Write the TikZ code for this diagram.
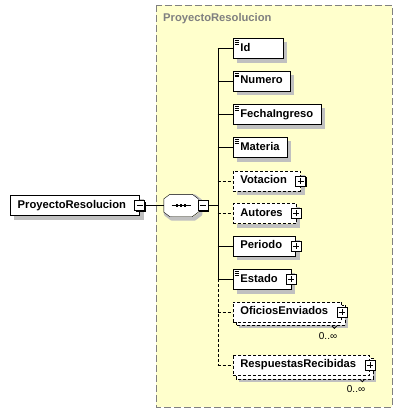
\documentclass[tikz,border=0pt]{standalone}
\usepackage{fontspec}
\setmainfont{Liberation Sans}
\usetikzlibrary{positioning}

\definecolor{schemabg}{RGB}{255,255,204}
\definecolor{schemagray}{RGB}{128,128,128}
\definecolor{shadowgray}{RGB}{192,192,192}

\pgfdeclarelayer{frame}
\pgfdeclarelayer{shadow}
\pgfsetlayers{frame,shadow,main}

\tikzset{
  elem/.style={draw, fill=white, anchor=west, minimum height=20pt, inner xsep=7.5pt, inner ysep=0pt,
    font=\fontsize{11.2}{13.4}\selectfont\bfseries, text height=8pt, text depth=2.5pt},
  opt/.style={dash pattern=on 3pt off 2pt},
  kids/.style={execute at end node=\hspace{6pt}},
  simple/.style={path picture={
    \foreach \dy in {2.2pt,3.9pt,5.6pt}
      \draw[line width=0.8pt] ([xshift=1.8pt,yshift=-\dy]path picture bounding box.north west) -- ++(4.5pt,0pt);}},
  plusbox/.style={draw, fill=white, minimum size=10pt, inner sep=0pt,
    path picture={\draw ([xshift=-3pt]path picture bounding box.center) -- ([xshift=3pt]path picture bounding box.center)
      ([yshift=-3pt]path picture bounding box.center) -- ([yshift=3pt]path picture bounding box.center);}},
  minusbox/.style={draw, fill=white, minimum size=10pt, inner sep=0pt,
    path picture={\draw ([xshift=-3pt]path picture bounding box.center) -- ([xshift=3pt]path picture bounding box.center);}},
  seqbox/.style={minimum width=34pt, minimum height=22pt, inner sep=0pt},
  occ/.style={font=\fontsize{10}{12}\selectfont, inner sep=0pt, anchor=east},
  shadowline/.style={shadowgray, line width=#1, line cap=butt}
}

% octagon of a sequence node, moved by #2
\newcommand{\seqpath}[2]{([xshift=6pt+#2,yshift=-#2]#1.north west) -- ([xshift=-6pt+#2,yshift=-#2]#1.north east)
    -- ([xshift=#2,yshift=-4.5pt-#2]#1.north east) -- ([xshift=#2,yshift=4.5pt-#2]#1.south east)
    -- ([xshift=-6pt+#2,yshift=-#2]#1.south east) -- ([xshift=6pt+#2,yshift=-#2]#1.south west)
    -- ([xshift=#2,yshift=4.5pt-#2]#1.south west) -- ([xshift=#2,yshift=-4.5pt-#2]#1.north west) -- cycle}

% gray shadow strips right of and below a box, #2 wide
\newcommand{\boxshadow}[2]{%
  \draw[shadowline=#2] ([xshift=#2/2,yshift=-#2]#1.north east) -- ([xshift=#2/2,yshift=-#2]#1.south east);
  \draw[shadowline=#2] ([xshift=#2,yshift=-#2/2]#1.south west) -- ([xshift=#2,yshift=-#2/2]#1.south east);}

\begin{document}
\begin{tikzpicture}[x=1pt, y=-1pt, line width=1pt]
  \useasboundingbox (0,0) rectangle (403,413);

  % complex type frame
  \begin{pgfonlayer}{frame}
    \draw[schemagray, dash pattern=on 7pt off 3pt, fill=schemabg] (156,5) rectangle (392,407);
  \end{pgfonlayer}
  \node[anchor=west, inner sep=0pt, text=schemagray, font=\fontsize{11.2}{13.4}\selectfont\bfseries] (title) at (163,19) {ProyectoResolucion};

  % root element and sequence
  \node[elem, kids] (root) at (10,205.5) {ProyectoResolucion};
  \fill ([xshift=-4pt,yshift=4pt]root.east) rectangle ([xshift=6pt,yshift=-6pt]root.east);
  \node[minusbox] (root-minus) at (root.east) {};
  \node[seqbox, right=19pt of root-minus] (seq) {};
  \begin{pgfonlayer}{shadow}
    \draw[shadowline=4pt, line join=round] \seqpath{seq}{2pt};
  \end{pgfonlayer}
  \draw[fill=white] \seqpath{seq}{0pt};
  \draw ([xshift=-9.5pt]seq.center) -- ([xshift=9.5pt]seq.center);
  \foreach \dx in {-4pt,0pt,4pt}
    \fill ([xshift=\dx]seq.center) +(-1.3pt,-1.3pt) rectangle +(1.3pt,1.3pt);
  \fill ([xshift=1pt,yshift=4pt]seq.east) rectangle ([xshift=11pt,yshift=-6pt]seq.east);
  \node[minusbox, anchor=west] (seq-minus) at (seq.east) {};
  \coordinate (spine) at (217.7,205.5);

  % children
  \node[elem, simple, execute at end node=\hspace{25pt}] (id) at (232.7,48.3) {Id};
  \node[elem, simple] (numero) at (232.7,81) {Numero};
  \node[elem, simple] (fecha) at (232.7,114.3) {FechaIngreso};
  \node[elem, simple] (materia) at (232.7,147.3) {Materia};
  \node[elem, kids, opt] (votacion) at (232.7,180.7) {Votacion};
  \node[elem, kids, opt] (autores) at (232.7,213.3) {Autores};
  \node[elem, kids] (periodo) at (232.7,246) {Periodo};
  \node[elem, kids, simple] (estado) at (232.7,279.3) {Estado};
  \node[elem, kids, opt] (oficios) at (232.7,311.7) {OficiosEnviados};
  \node[elem, kids, opt] (respuestas) at (232.7,365) {RespuestasRecibidas};

  % shadows
  \begin{pgfonlayer}{shadow}
    \foreach \n in {root,id,numero,fecha,materia,votacion,autores,periodo,estado} {
      \boxshadow{\n}{4pt}
    }
    \foreach \n in {oficios,respuestas} {
      \boxshadow{\n}{6.5pt}
      \draw[opt, fill=white] ([xshift=3.5pt,yshift=-3.5pt]\n.south west) rectangle ([xshift=3.5pt,yshift=-3.5pt]\n.north east);
    }
  \end{pgfonlayer}

  \foreach \n in {votacion,autores,periodo,estado,oficios,respuestas} {
    \fill ([xshift=-4pt,yshift=4pt]\n.east) rectangle ([xshift=6pt,yshift=-6pt]\n.east);
    \node[plusbox] (\n-plus) at (\n.east) {};
  }

  % occurrences
  \foreach \n in {oficios,respuestas} {
    \draw[line width=0.8pt] ([xshift=-10pt,yshift=-4pt]\n.south east) -- ++(2.5pt,-2.5pt) -- ++(2.5pt,2.5pt);
    \node[occ] (\n-occ) at ([xshift=-4.5pt,yshift=-14.2pt]\n.south east) {0..∞};
  }

  % connectors
  \draw (root-minus.east) -- (seq.west);
  \draw (seq-minus.east) -- (spine);
  \draw (spine |- id.west) -- (spine |- estado.west);
  \draw[opt] (spine |- estado.west) -- (spine |- respuestas.west);
  \foreach \n in {id,numero,fecha,materia,periodo,estado}
    \draw (spine |- \n.west) -- (\n.west);
  \foreach \n in {votacion,autores,oficios,respuestas}
    \draw[opt] (spine |- \n.west) -- (\n.west);
\end{tikzpicture}
\end{document}
